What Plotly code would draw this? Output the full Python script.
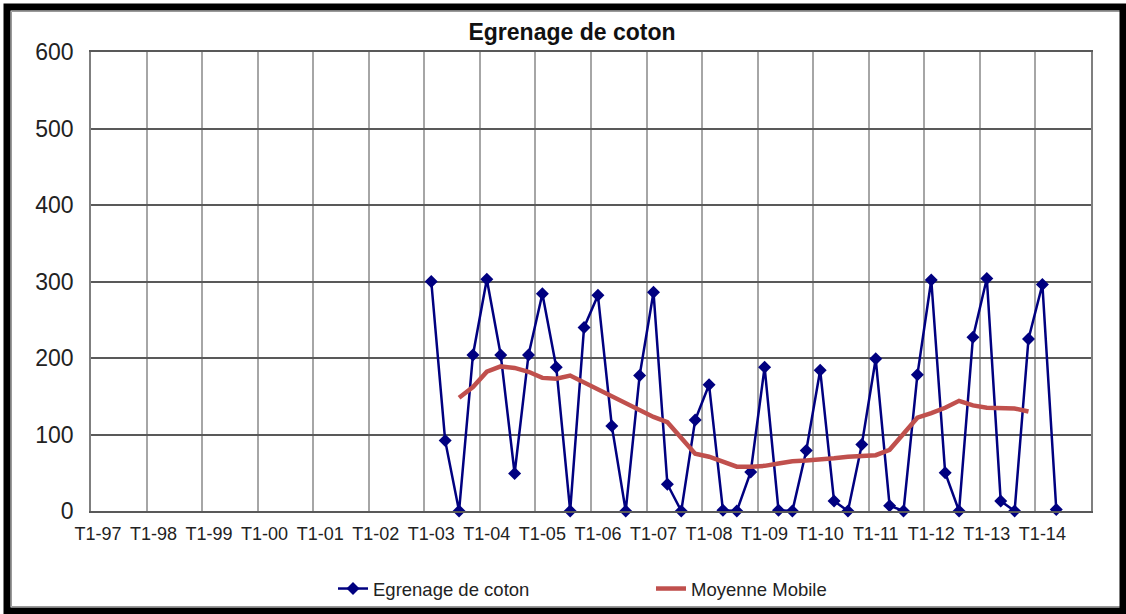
import plotly.graph_objects as go

# ---- data ----
years = ["97", "98", "99", "00", "01", "02", "03", "04", "05",
         "06", "07", "08", "09", "10", "11", "12", "13", "14"]
quarters = ["T1", "T2", "T3", "T4"]
categories = [f"{q}-{y}" for y in years for q in quarters]

# Egrenage de coton: T1-03 .. T2-14
egrenage_start = "T1-03"
egrenage = [300, 92, 0, 204,
            303, 204, 49, 204,
            284, 188, 0, 240,
            282, 111, 0, 177,
            286, 35, 0, 119,
            165, 1, 0, 51,
            188, 1, 0, 79,
            184, 13, 0, 87,
            199, 7, 0, 178,
            302, 50, 0, 227,
            304, 13, 0, 225,
            296, 2]

# Moyenne Mobile: T3-03 .. T4-13
mm_start = "T3-03"
moyenne = [148, 162, 182, 189, 187, 182, 174, 173, 177, 168,
           158, 149, 140, 131, 123, 116, 95, 75, 71, 64,
           58, 58, 59, 62, 65, 66, 67, 69, 71, 72,
           73, 80, 100, 122, 128, 135, 144, 138, 135, 135,
           134, 130]

tick_labels = [f"T1-{y}" for y in years]

# ---- positions from category indices ----
i0 = categories.index(egrenage_start)
x_egr = list(range(i0, i0 + len(egrenage)))
j0 = categories.index(mm_start)
x_mm = list(range(j0, j0 + len(moyenne)))
tickvals = [categories.index(t) for t in tick_labels]
boundaries = [v - 0.5 for v in tickvals[1:]]

FONT = "Arial, 'Liberation Sans', sans-serif"

fig = go.Figure()
fig.add_trace(go.Scatter(
    x=x_egr, y=egrenage, name="Egrenage de coton",
    mode="lines+markers",
    line=dict(color="#000080", width=2.5),
    marker=dict(symbol="diamond", size=10, color="#000080"),
    cliponaxis=False,
    text=[categories[i] for i in x_egr],
    hovertemplate="%{text}: %{y}<extra></extra>",
))
fig.add_trace(go.Scatter(
    x=x_mm, y=moyenne, name="Moyenne Mobile",
    mode="lines",
    line=dict(color="#C0504D", width=4.5),
    text=[categories[i] for i in x_mm],
    hovertemplate="%{text}: %{y}<extra></extra>",
))

L, R, T, B = 91, 1126 - 1091, 52, 614 - 511
W, H = 1126, 614
pw, ph = 1000, 459

def px(xp):
    return (xp - L) / pw

def py(yp):
    return (511 - yp) / ph

fig.update_layout(
    width=W, height=H,
    margin=dict(l=L, r=R, t=T, b=B, autoexpand=False),
    paper_bgcolor="white",
    plot_bgcolor="white",
    font=dict(family=FONT, color="#1a1a1a"),
    title=dict(text="<b>Egrenage de coton</b>", x=572 / W, xref="container",
               xanchor="center", y=1 - 32 / H, yanchor="middle",
               font=dict(size=23, family=FONT, color="#111")),
    xaxis=dict(
        range=[-0.5, len(categories) - 0.5],
        tickmode="array", tickvals=tickvals, ticktext=tick_labels,
        showgrid=False, zeroline=False,
        showline=True, linecolor="#595959", linewidth=1.5, mirror=True,
        ticks="", ticklabelstandoff=6,
        tickfont=dict(size=18, family=FONT, color="#222"),
        minor=dict(tickmode="array", tickvals=boundaries, showgrid=True,
                   gridcolor="#a6a6a6", gridwidth=1.5, ticks=""),
    ),
    yaxis=dict(
        range=[0, 600], dtick=100, tick0=0,
        showgrid=True, gridcolor="#595959", gridwidth=1.5,
        zeroline=False,
        showline=True, linecolor="#7f7f7f", linewidth=1.5, mirror=True,
        ticks="", ticklabelstandoff=11,
        tickfont=dict(size=23, family=FONT, color="#222"),
    ),
    legend=dict(
        orientation="h", x=px(333), xanchor="left", y=py(570), yanchor="top",
        font=dict(size=18.5, family=FONT, color="#222"),
        entrywidth=273, entrywidthmode="pixels",
        bgcolor="rgba(0,0,0,0)",
    ),
    showlegend=True,
    shapes=[
        dict(type="rect", xref="paper", yref="paper",
             x0=px(11.5), x1=px(1120.5), y0=py(606.5), y1=py(11.5),
             line=dict(color="#9a9a9a", width=1), fillcolor="rgba(0,0,0,0)",
             layer="above"),
        dict(type="rect", xref="paper", yref="paper",
             x0=px(7), x1=px(1123), y0=py(611), y1=py(7),
             line=dict(color="black", width=7), fillcolor="rgba(0,0,0,0)",
             layer="above"),
    ],
)

fig.write_html("out.html", config={"displayModeBar": False},
               post_script="document.body.style.margin='0px';")
